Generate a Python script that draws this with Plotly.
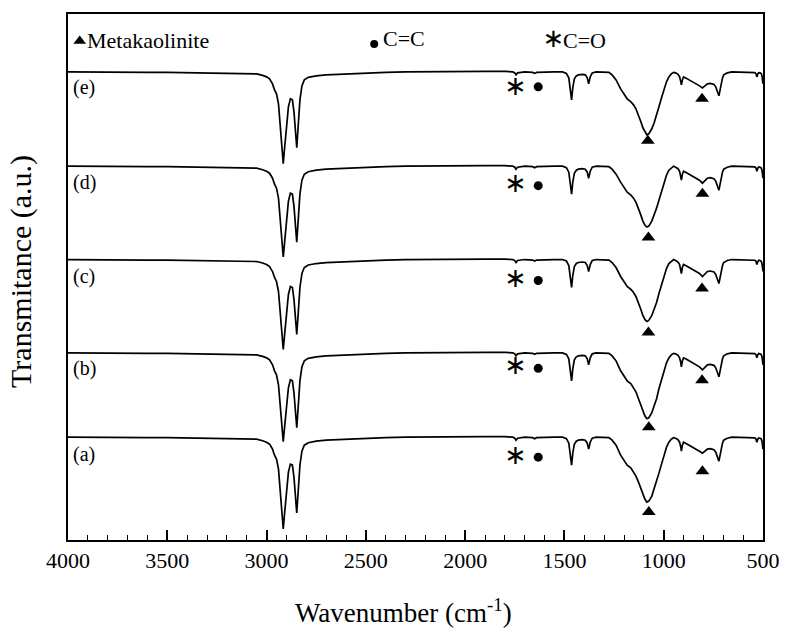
import plotly.graph_objects as go

# ---------------- data ----------------
wavenumber = [4000, 3900, 3800, 3700, 3600, 3500, 3400, 3300, 3200, 3100, 3050, 3020, 3000, 2985, 2970,
              2960, 2950, 2940, 2930, 2922, 2916, 2910, 2900, 2890, 2880, 2870, 2862, 2855, 2848, 2840,
              2832, 2822, 2810, 2790, 2750, 2700, 2600, 2500, 2400, 2300, 2200, 2100, 2000, 1900, 1800,
              1760, 1750, 1744, 1736, 1700, 1660, 1650, 1640, 1600, 1550, 1510, 1490, 1478, 1470, 1464,
              1458, 1450, 1440, 1430, 1410, 1395, 1385, 1378, 1370, 1360, 1340, 1300, 1276, 1260, 1240,
              1217, 1200, 1184, 1165, 1152, 1140, 1127, 1115, 1105, 1095, 1085, 1075, 1060, 1048, 1036,
              1024, 1011, 998, 986, 974, 962, 950, 940, 928, 920, 915, 911, 906, 900, 885,
              871, 855, 838, 820, 805, 795, 780, 765, 747, 738, 731, 726, 722, 716, 711,
              704, 698, 680, 657, 620, 580, 541, 535, 531, 526, 522, 515, 509, 505, 502, 500]

# band depth below each baseline (a.u.)
depth_e = [0, 0.3, 0, 0.3, 0.5, 0.5, 0.8, 1, 1, 1.5, 2, 3.5, 5, 7, 12,
           18, 22, 32, 55, 82, 92, 78, 52, 35, 27, 28, 40, 58, 76, 52,
           28, 14, 8, 5.5, 4, 3, 2, 1, 0.5, 0, -0.3, -0.5, -0.5, -0.5, -0.5,
           0, 1, 3, 1, 0, 0.5, 1.5, 0.5, 0, 0, 0, 1.5, 6, 16, 28,
           16, 7, 4, 3, 2.5, 3, 6, 12, 5, 1, 0, 0, 0.5, 3, 8,
           17, 22, 27, 30, 33, 37, 43, 50, 56, 60, 63, 62, 57, 51, 44,
           35, 26, 17, 10, 5, 2, 0.5, 1, 2.5, 5, 9, 13, 8, 5, 6.5,
           8, 10, 12, 14, 16, 14, 12, 11.5, 12.5, 15, 19, 23, 24, 18, 12,
           6, 3, 1, 0, 0, 0.5, 0.7, 2, 5, 2, 0.7, 1, 1.7, 4, 10, 12]
depth_d = [0, 0.3, 0, 0.3, 0.5, 0.5, 0.8, 1, 1, 1.5, 2, 3.5, 5, 7, 12,
           18, 22, 32, 55, 82, 91, 78, 52, 35, 27, 28, 40, 58, 76, 52,
           28, 14, 8, 5.5, 4, 3, 2, 1, 0.5, 0, -0.3, -0.5, -0.5, -0.5, -0.5,
           0, 1, 3, 1, 0, 0.5, 1.5, 0.5, 0, 0, 0, 1.5, 6, 16, 28,
           16, 7, 4, 3, 2.5, 3, 6, 12, 5, 1, 0, 0, 0.5, 3, 8,
           16, 21, 26, 29, 32, 36, 42, 49, 55, 59, 61, 60, 55, 49, 42,
           34, 25, 16, 9, 4, 1.5, 0, 1, 2.5, 5, 9, 14, 8, 5, 6.5,
           8, 10, 12, 14, 17, 15, 12, 11.5, 12.5, 15, 19, 23, 24, 18, 12,
           6, 3, 1, 0, 0, 0.5, 0.7, 2, 5, 2, 0.7, 1, 1.7, 4, 10, 12]
depth_c = [0, 0.3, 0, 0.3, 0.5, 0.5, 0.8, 1, 1, 1.5, 2, 3.5, 5, 7, 12,
           18, 22, 32, 55, 81, 90, 77, 52, 35, 27, 28, 40, 58, 75, 52,
           28, 14, 8, 5.5, 4, 3, 2, 1, 0.5, 0, -0.3, -0.5, -0.5, -0.5, -0.5,
           0, 1, 3, 1, 0, 0.5, 1.5, 0.5, 0, 0, 0, 1.5, 6, 16, 28,
           16, 7, 4, 3, 2.5, 3, 6, 12, 5, 1, 0, 0, 0.5, 3, 8,
           17, 22, 27, 30, 33, 37, 43, 50, 56, 60, 62, 61, 56, 50, 43,
           34, 25, 16, 9, 4, 1.5, 0, 1, 2.5, 5, 9, 14, 8, 5, 6.5,
           8, 10, 12, 14, 17, 15, 12, 11.5, 12.5, 15, 19, 23, 24, 18, 12,
           6, 3, 1, 0, 0, 0.5, 0.7, 2, 5, 2, 0.7, 1, 1.7, 4, 10, 12]
depth_b = [0, 0.3, 0, 0.3, 0.5, 0.5, 0.8, 1, 1, 1.5, 2, 3.5, 5, 7, 12,
           18, 22, 32, 55, 80, 89, 76, 52, 35, 27, 28, 40, 58, 75, 52,
           28, 14, 8, 5.5, 4, 3, 2, 1, 0.5, 0, -0.3, -0.5, -0.5, -0.5, -0.5,
           0, 1, 3, 1, 0, 0.5, 1.5, 0.5, 0, 0, 0, 1.5, 6, 16, 28,
           16, 7, 4, 3, 2.5, 3, 6, 12, 5, 1, 0, 0, 0.5, 3, 8,
           18, 23, 28, 31, 35, 39, 46, 53, 59, 63, 66, 65, 60, 53, 46,
           36, 27, 17, 10, 5, 2, 0.5, 1, 2.5, 5, 9, 14, 8, 5, 6.5,
           8, 10, 12, 14, 17, 15, 12, 11.5, 12.5, 15, 19, 23, 24, 18, 12,
           6, 3, 1, 0, 0, 0.5, 0.7, 2, 5, 2, 0.7, 1, 1.7, 4, 10, 12]
depth_a = [0, 0.3, 0, 0.3, 0.5, 0.5, 0.8, 1, 1, 1.5, 2, 3.5, 5, 7, 12,
           18, 22, 32, 55, 82, 92, 78, 52, 35, 27, 28, 40, 58, 76, 52,
           28, 14, 8, 5.5, 4, 3, 2, 1, 0.5, 0, -0.3, -0.5, -0.5, -0.5, -0.5,
           0, 1, 3, 1, 0, 0.5, 1.5, 0.5, 0, 0, 0, 1.5, 6, 16, 28,
           16, 7, 4, 3, 2.5, 3, 6, 12, 5, 1, 0, 0, 0.5, 3, 8,
           18, 23, 28, 31, 35, 39, 45, 52, 58, 62, 65, 64, 59, 52, 45,
           36, 27, 17, 10, 5, 2, 0.5, 1, 2.5, 5, 9, 14, 8, 5, 6.5,
           8, 10, 12, 14, 16, 14, 12, 11.5, 12.5, 15, 19, 23, 24, 18, 12,
           6, 3, 1, 0, 0, 0.5, 0.7, 2, 5, 2, 0.7, 1, 1.7, 4, 10, 12]

sample_labels = ["(e)", "(d)", "(c)", "(b)", "(a)"]
baselines = [469, 374.5, 281, 187.5, 103]
depths = [depth_e, depth_d, depth_c, depth_b, depth_a]
label_y = [453, 358, 264, 172, 86]

# peak markers (wavenumber, transmittance a.u.)
star_x = [1746, 1746, 1746, 1746, 1746]
star_y = [453, 355, 260, 173, 83]
dot_x = [1632, 1632, 1632, 1632, 1632]
dot_y = [454, 355, 260, 172, 83]
tri_main_x = [1080, 1077, 1077, 1075, 1075]
tri_main_y = [400, 303, 208, 113, 28]
tri_sec_x = [807, 805, 807, 807, 805]
tri_sec_y = [442, 347, 252, 160, 69]

x_ticks = [4000, 3500, 3000, 2500, 2000, 1500, 1000, 500]
legend_items = ["Metakaolinite", "C=C", "C=O"]

FONT = "Liberation Serif"
STAR = "∗"

fig = go.Figure()
for lab, base, dep in zip(sample_labels, baselines, depths):
    fig.add_trace(go.Scatter(x=wavenumber, y=[base - d for d in dep], mode="lines",
                             line=dict(color="black", width=1.7), name=lab,
                             hoverinfo="skip"))

fig.add_trace(go.Scatter(x=tri_main_x + tri_sec_x, y=tri_main_y + tri_sec_y, mode="markers",
                         marker=dict(symbol="triangle-up", size=12, color="black")))
fig.add_trace(go.Scatter(x=dot_x, y=dot_y, mode="markers",
                         marker=dict(symbol="circle", size=9, color="black")))
fig.add_trace(go.Scatter(x=star_x, y=star_y, mode="text", text=[STAR] * 5,
                         textfont=dict(size=27, color="black", family="DejaVu Sans"),
                         textposition="middle center"))

# legend row symbols
fig.add_trace(go.Scatter(x=[3941], y=[500], mode="markers",
                         marker=dict(symbol="triangle-up", size=11, color="black")))
fig.add_trace(go.Scatter(x=[2458], y=[497], mode="markers",
                         marker=dict(symbol="circle", size=8, color="black")))
fig.add_trace(go.Scatter(x=[1556], y=[500], mode="text", text=[STAR],
                         textfont=dict(size=26, color="black", family="DejaVu Sans"),
                         textposition="middle center"))

annotations = [
    dict(x=3912, y=500, text=legend_items[0], xanchor="left", yanchor="middle", showarrow=False,
         font=dict(family=FONT, size=22, color="black")),
    dict(x=2425, y=502, text=legend_items[1], xanchor="left", yanchor="middle", showarrow=False,
         font=dict(family=FONT, size=22, color="black")),
    dict(x=1518, y=500, text=legend_items[2], xanchor="left", yanchor="middle", showarrow=False,
         font=dict(family=FONT, size=22, color="black")),
]
for lab, ly in zip(sample_labels, label_y):
    annotations.append(dict(x=3985, y=ly, text=lab, xanchor="left", yanchor="middle",
                            showarrow=False, font=dict(family=FONT, size=20, color="black")))

annotations.append(dict(xref="paper", yref="paper", x=0.483, y=-0.098, yanchor="top",
                        text="Wavenumber (cm<sup>-1</sup>)", showarrow=False,
                        font=dict(family=FONT, size=27, color="black")))
annotations.append(dict(xref="paper", yref="paper", x=-0.04, y=0.51, xanchor="right",
                        text="Transmitance (a.u.)", textangle=-90, showarrow=False,
                        font=dict(family=FONT, size=30, color="black")))

fig.update_layout(
    width=792, height=629, autosize=False,
    margin=dict(l=68, r=17, t=13, b=89),
    paper_bgcolor="white", plot_bgcolor="white",
    showlegend=False,
    annotations=annotations,
    xaxis=dict(range=[4000, 500], tickvals=x_ticks, ticktext=[str(v) for v in x_ticks],
               ticks="inside", ticklen=10, tickwidth=1.5, tickcolor="black",
               minor=dict(dtick=100, ticks="inside", ticklen=5, tickwidth=1.2, tickcolor="black"),
               showline=True, linecolor="black", linewidth=1.8, mirror=True,
               showgrid=False, zeroline=False, ticklabeloverflow="allow",
               tickfont=dict(family=FONT, size=22, color="black")),
    yaxis=dict(range=[0, 527], showticklabels=False, ticks="",
               showline=True, linecolor="black", linewidth=1.8, mirror=True,
               showgrid=False, zeroline=False),
)

fig.write_html("out.html",
               config={"displayModeBar": False, "responsive": False},
               post_script="document.body.style.margin='0px';document.body.style.overflow='hidden';")
